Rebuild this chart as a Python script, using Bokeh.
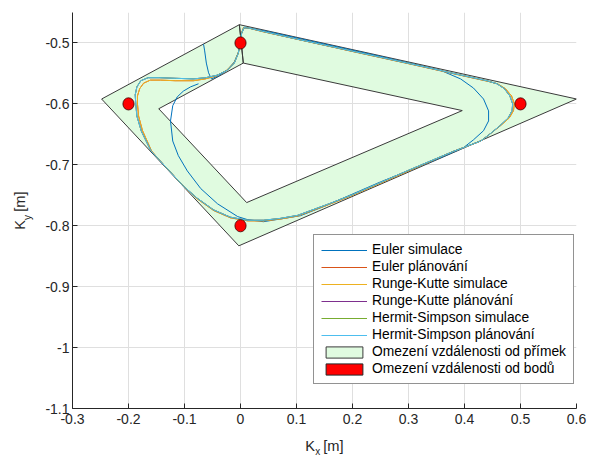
from math import pi
from bokeh.plotting import figure
from bokeh.models import Legend, LegendItem, Label, FixedTicker, CustomJSTickFormatter
from bokeh.embed import file_html
from bokeh.resources import INLINE

# ---------------- data ----------------
x_ticks = [-0.3, -0.2, -0.1, 0.0, 0.1, 0.2, 0.3, 0.4, 0.5, 0.6]
y_ticks = [-1.1, -1.0, -0.9, -0.8, -0.7, -0.6, -0.5]

# waypoints (red discs, diameter in data units)
wp_x = [-0.2, 0.0, 0.5, 0.0]
wp_y = [-0.6, -0.5, -0.6, -0.8]
wp_d = [0.02, 0.02, 0.02, 0.02]

# corridor ("Omezení vzdálenosti od přímek"): outer loop then inner loop
band_outer_x = [-0.002, 0.600, -0.003, -0.248, -0.002]
band_outer_y = [-0.470, -0.592, -0.833, -0.592, -0.470]
band_inner_x = [0.005, -0.146, 0.011, 0.396, 0.005]
band_inner_y = [-0.533, -0.608, -0.762, -0.611, -0.533]

# main trajectory (Euler planning / Runge-Kutta simulation)
path_a_x = [-0.184, -0.184, -0.180, -0.173, -0.161, -0.143, -0.116, -0.084, -0.063, -0.043,
            -0.025, -0.011, -0.004, 0.000, 0.002, 0.005, 0.014, 0.040, 0.100, 0.200,
            0.300, 0.400, 0.440, 0.459, 0.473, 0.484, 0.489, 0.4875, 0.480, 0.464,
            0.446, 0.429, 0.380, 0.300, 0.200, 0.161, 0.102, 0.071, 0.041, 0.0125,
            0.000, -0.018, -0.048, -0.077, -0.103, -0.144, -0.159, -0.175, -0.182, -0.184]
path_a_y = [-0.600, -0.587, -0.575, -0.566, -0.561, -0.561, -0.562, -0.562, -0.559, -0.554,
            -0.545, -0.532, -0.516, -0.500, -0.484, -0.475, -0.4755, -0.4815, -0.4937, -0.514,
            -0.534, -0.5545, -0.5626, -0.567, -0.575, -0.587, -0.600, -0.611, -0.623, -0.636,
            -0.649, -0.661, -0.678, -0.710, -0.750, -0.764, -0.784, -0.789, -0.792, -0.792,
            -0.790, -0.787, -0.775, -0.756, -0.734, -0.693, -0.677, -0.644, -0.620, -0.600]

# Runge-Kutta planning / Hermit-Simpson trajectory
path_b_x = [-0.187, -0.188, -0.185, -0.178, -0.165, -0.145, -0.116, -0.084, -0.062, -0.042,
            -0.024, -0.011, -0.004, 0.000, 0.002, 0.006, 0.015, 0.040, 0.100, 0.200,
            0.300, 0.400, 0.440, 0.458, 0.471, 0.481, 0.486, 0.485, 0.478, 0.463,
            0.446, 0.429, 0.380, 0.300, 0.200, 0.161, 0.102, 0.071, 0.041, 0.0125,
            0.000, -0.018, -0.048, -0.077, -0.103, -0.144, -0.160, -0.177, -0.185, -0.187]
path_b_y = [-0.600, -0.585, -0.572, -0.562, -0.557, -0.557, -0.558, -0.559, -0.557, -0.553,
            -0.545, -0.533, -0.517, -0.500, -0.484, -0.475, -0.4755, -0.481, -0.4935, -0.5135,
            -0.5335, -0.554, -0.562, -0.567, -0.575, -0.587, -0.600, -0.611, -0.623, -0.636,
            -0.649, -0.661, -0.678, -0.709, -0.749, -0.763, -0.783, -0.788, -0.791, -0.791,
            -0.789, -0.786, -0.774, -0.755, -0.734, -0.693, -0.677, -0.645, -0.620, -0.600]

# Euler simulation (deviating run)
euler_sim_x = [-0.066, -0.064, -0.061, -0.057, -0.052, -0.039, -0.023, -0.011, -0.004, 0.000,
               0.002, 0.007, 0.050, 0.150, 0.250, 0.357, 0.393, 0.416, 0.434, 0.443,
               0.443, 0.434, 0.416, 0.398, 0.357, 0.309, 0.250, 0.150, 0.107, 0.041,
               0.0125, -0.005, -0.041, -0.071, -0.095, -0.111, -0.121, -0.125, -0.121, -0.113,
               -0.102, -0.089, -0.075]
euler_sim_y = [-0.502, -0.513, -0.533, -0.549, -0.559, -0.554, -0.544, -0.531, -0.516, -0.500,
               -0.484, -0.474, -0.4815, -0.5018, -0.5221, -0.5448, -0.559, -0.574, -0.592, -0.6115,
               -0.628, -0.644, -0.659, -0.672, -0.6885, -0.7066, -0.728, -0.768, -0.7836, -0.7934,
               -0.790, -0.785, -0.764, -0.739, -0.710, -0.685, -0.661, -0.628, -0.603, -0.5885,
               -0.579, -0.572, -0.567]

euler_plan_x, euler_plan_y = path_a_x, path_a_y
rk_sim_x, rk_sim_y = path_a_x, path_a_y
rk_plan_x, rk_plan_y = path_b_x, path_b_y
hs_sim_x, hs_sim_y = path_b_x, path_b_y
hs_plan_x, hs_plan_y = path_b_x, path_b_y

series = [
    ("Euler simulace", euler_sim_x, euler_sim_y, "#0072BD"),
    ("Euler plánování", euler_plan_x, euler_plan_y, "#D95319"),
    ("Runge-Kutte simulace", rk_sim_x, rk_sim_y, "#EDB120"),
    ("Runge-Kutte plánování", rk_plan_x, rk_plan_y, "#7E2F8E"),
    ("Hermit-Simpson simulace", hs_sim_x, hs_sim_y, "#77AC30"),
    ("Hermit-Simpson plánování", hs_plan_x, hs_plan_y, "#4DBEEE"),
]

FONT = "Liberation Sans"
AX = "#262626"
NB = "\u00a0"

p = figure(width=590, height=457, x_range=(-0.3, 0.6), y_range=(-1.1, -0.45),
           output_backend="svg", toolbar_location=None,
           min_border_left=72, min_border_right=14, min_border_top=12, min_border_bottom=49)
p.outline_line_color = None
p.background_fill_color = "white"
p.border_fill_color = "white"

# corridor patch (outer + inner, drawn as one path like the original)
band = p.patch(band_outer_x + band_inner_x, band_outer_y + band_inner_y,
               fill_color="#E0FBE0", line_color="#3a3a3a", line_width=1)

renderers = []
for name, xs, ys, col in series:
    r = p.line(xs, ys, line_color=col, line_width=1)
    renderers.append((name, r))

p.ellipse(x=wp_x, y=wp_y, width=wp_d, height=wp_d, fill_color="#FF0000",
          line_color="#3a0000", line_width=0.8)
# legend swatch for the red discs (zero-size rects: only the legend swatch shows)
red_proxy = p.rect(x=wp_x, y=wp_y, width=0, height=0, fill_color="#FF0000",
                   line_color="#262626", line_width=1)

# axes
p.xaxis.ticker = FixedTicker(ticks=x_ticks)
p.yaxis.ticker = FixedTicker(ticks=y_ticks)
p.xaxis.formatter = CustomJSTickFormatter(code="return (Math.round(tick*10)/10).toString();")
p.yaxis.formatter = CustomJSTickFormatter(code="return (Math.round(tick*10)/10).toString();")
for ax in (p.xaxis[0], p.yaxis[0]):
    ax.axis_line_color = AX
    ax.major_tick_line_color = AX
    ax.major_tick_in = 5
    ax.major_tick_out = 0
    ax.minor_tick_line_color = None
    ax.major_label_text_font = FONT
    ax.major_label_text_font_size = "14px"
    ax.major_label_text_color = AX
    ax.axis_label_text_font = FONT
    ax.axis_label_text_font_size = "14.67px"
    ax.axis_label_text_color = AX
    ax.axis_label_text_font_style = "normal"
p.xaxis.major_label_standoff = 5
p.yaxis.major_label_standoff = 3
p.xaxis.axis_label = "K" + NB + NB + "[m]"
p.yaxis.axis_label = "K" + NB + NB + "[m]"
p.xaxis.axis_label_standoff = 11
p.yaxis.axis_label_standoff = 14
p.grid.grid_line_color = "#dfdfdf"
p.grid.grid_line_width = 1

# subscripts of the axis titles (small labels in the narrow side panels, placed in data units)
p.add_layout(Label(x=0.1336, y=-1.1710, text="x", text_font=FONT, text_font_size="10px",
                   text_color=AX, text_align="left", text_baseline="alphabetic"), "right")
p.add_layout(Label(x=-0.3795, y=-0.7905, text="y", text_font=FONT, text_font_size="10px",
                   text_color=AX, text_align="left", text_baseline="alphabetic",
                   angle=pi / 2), "above")

items = [LegendItem(label=n, renderers=[r]) for n, r in renderers]
items.append(LegendItem(label="Omezení vzdálenosti od přímek", renderers=[band]))
items.append(LegendItem(label="Omezení vzdálenosti od bodů", renderers=[red_proxy]))
legend = Legend(items=items, location=(241, 24))
legend.label_text_font = FONT
legend.label_text_font_size = "13.8px"
legend.label_text_color = "#000000"
legend.glyph_width = 46
legend.glyph_height = 14
legend.label_height = 14
legend.label_standoff = 5
legend.spacing = 2
legend.padding = 7
legend.margin = 0
legend.border_line_color = AX
legend.border_line_width = 1
legend.background_fill_color = "white"
legend.background_fill_alpha = 1
p.add_layout(legend)

open("out.html", "w").write(file_html(p, INLINE))
